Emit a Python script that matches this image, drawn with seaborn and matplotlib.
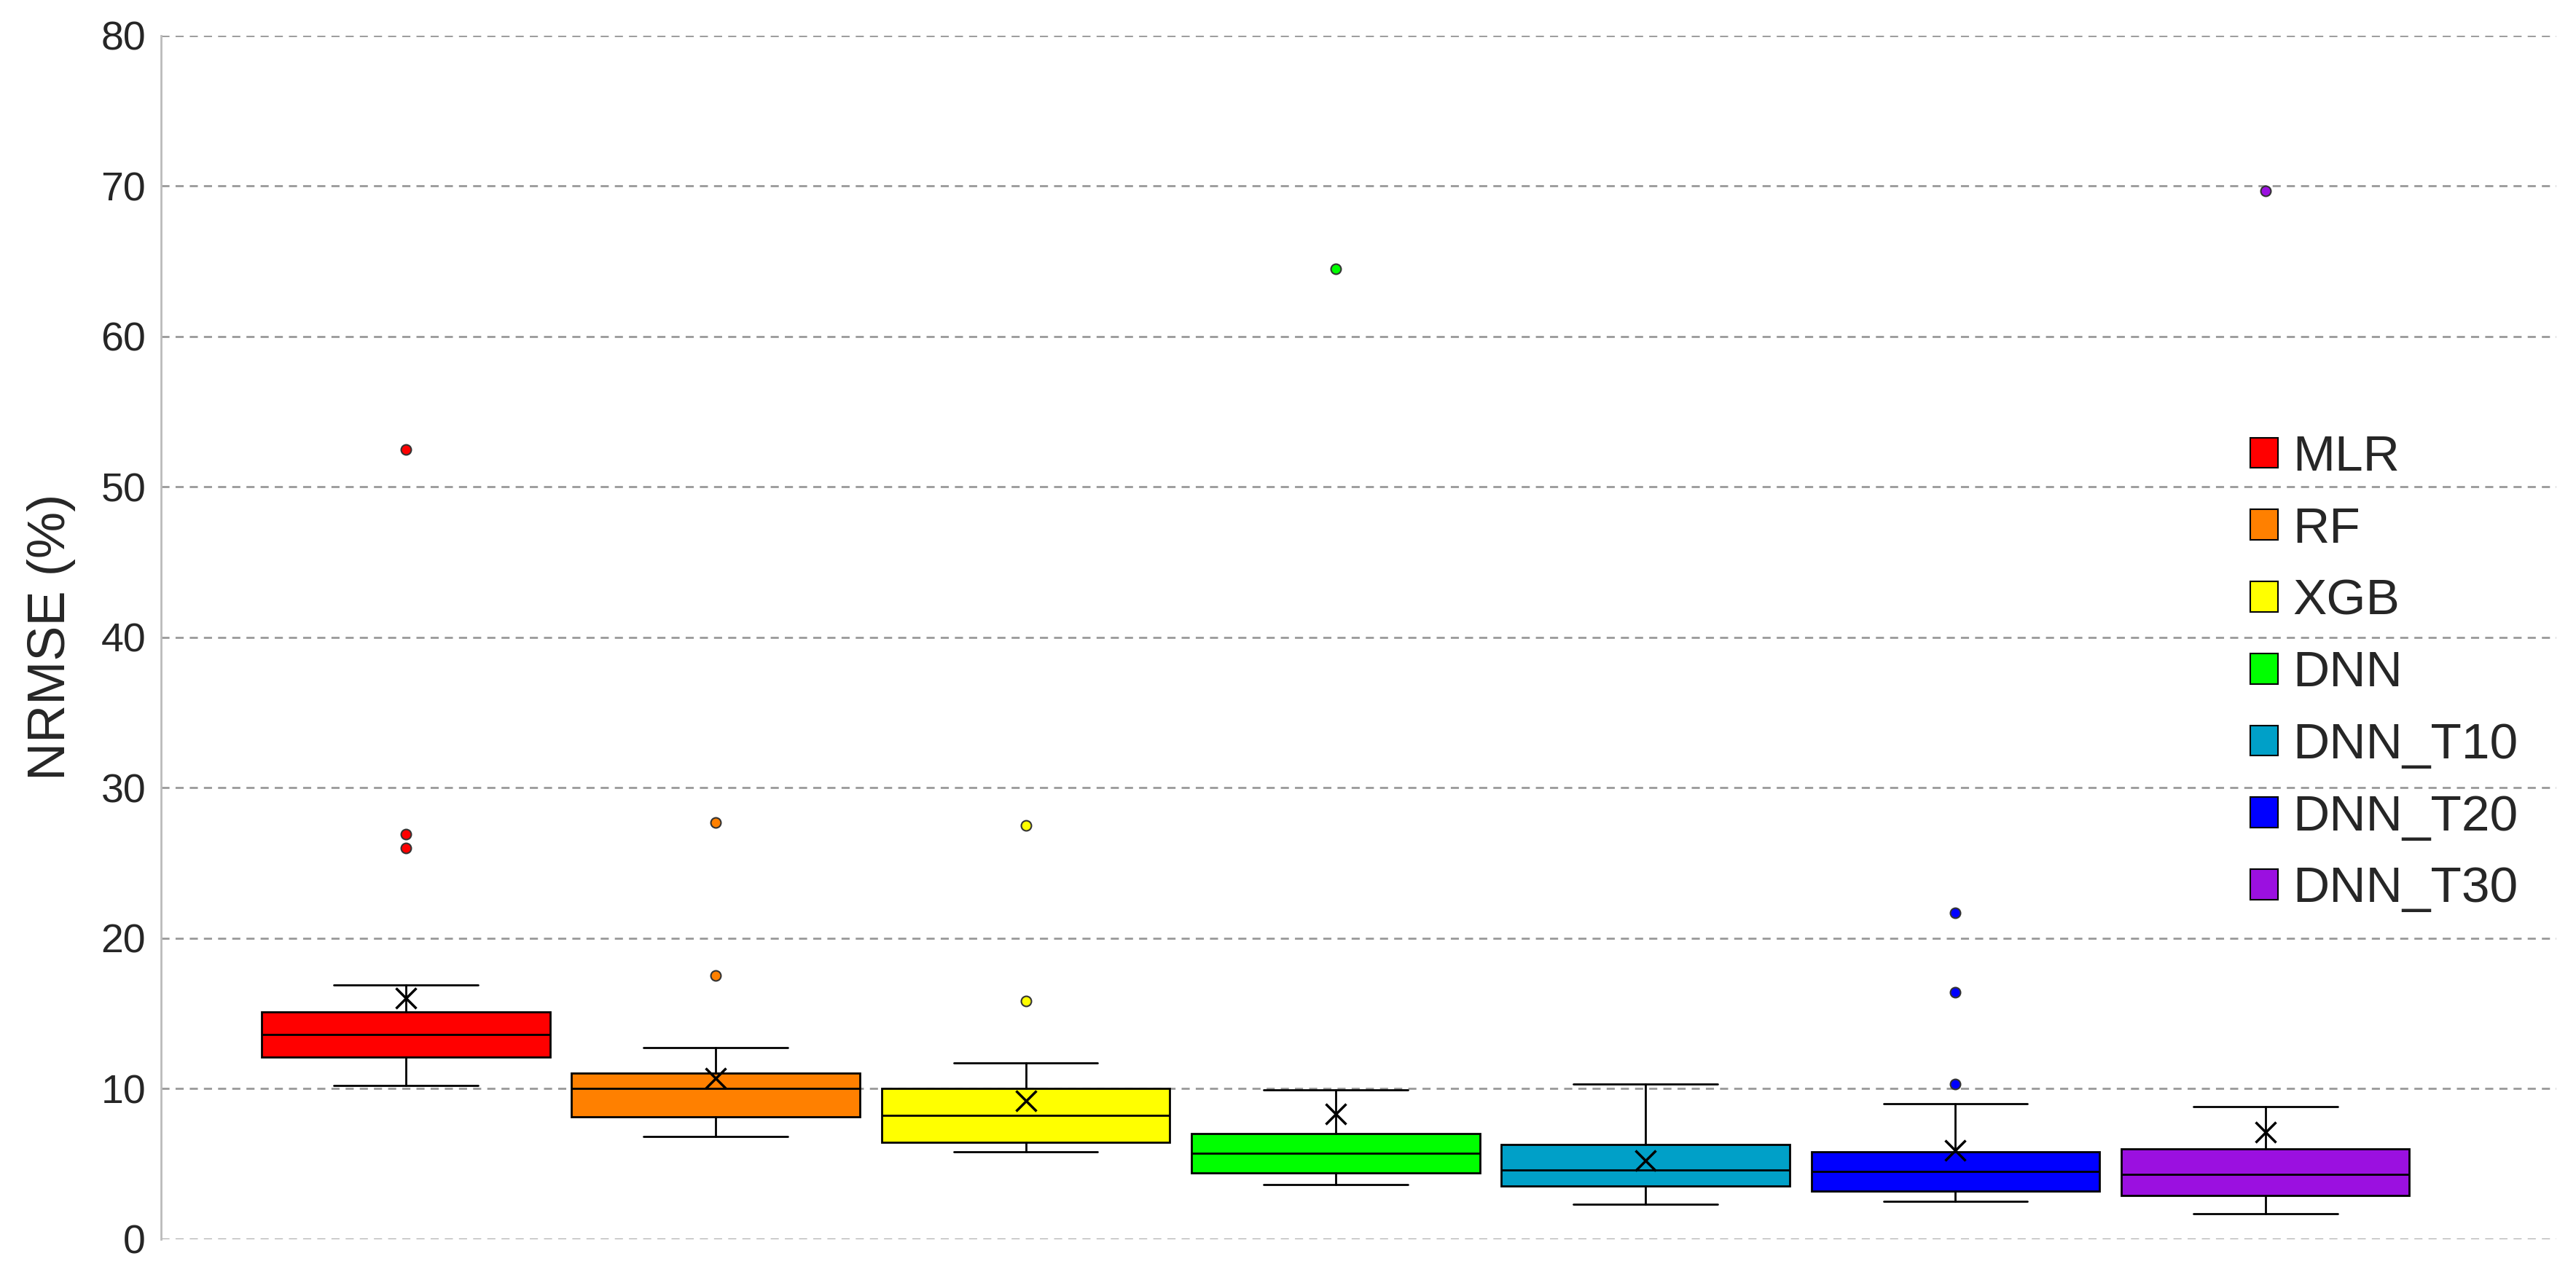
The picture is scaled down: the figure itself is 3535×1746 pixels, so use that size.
import matplotlib
matplotlib.use("Agg")
import matplotlib.pyplot as plt
import seaborn as sns
from matplotlib.patches import Patch

models = ["MLR", "RF", "XGB", "DNN", "DNN_T10", "DNN_T20", "DNN_T30"]
colors = ["#FF0000", "#FF8000", "#FFFF00", "#00FF00", "#00A0C8", "#0000FF", "#9B10E0"]
q1 = [12.1, 8.1, 6.4, 4.4, 3.5, 3.2, 2.9]
med = [13.6, 10.0, 8.2, 5.7, 4.6, 4.5, 4.3]
q3 = [15.1, 11.0, 10.0, 7.0, 6.3, 5.8, 6.0]
whislo = [10.2, 6.8, 5.8, 3.6, 2.3, 2.5, 1.7]
whishi = [16.9, 12.7, 11.7, 9.9, 10.3, 9.0, 8.8]
means = [16.0, 10.7, 9.2, 8.3, 5.2, 5.9, 7.1]
outliers = [[52.5, 26.9, 26.0], [27.7, 17.5], [27.5, 15.8], [64.5], [], [21.7, 16.4, 10.3], [69.7]]

sns.set_style("white")
plt.rcParams['font.family'] = ['Liberation Sans', 'DejaVu Sans']

fig = plt.figure(figsize=(35.35, 17.46), dpi=100)
ax = fig.add_axes([0.0625, 0.026, 0.93, 0.946])

for i, m in enumerate(models):
    st = dict(label=m, q1=q1[i], med=med[i], q3=q3[i], whislo=whislo[i],
              whishi=whishi[i], mean=means[i], fliers=outliers[i])
    ax.bxp([st], positions=[i], widths=0.93, patch_artist=True, showmeans=True,
           boxprops=dict(facecolor=colors[i], edgecolor="black", linewidth=2),
           medianprops=dict(color="black", linewidth=2),
           whiskerprops=dict(color="black", linewidth=2),
           capprops=dict(color="black", linewidth=2),
           meanprops=dict(marker="x", markeredgecolor="black", markersize=20, markeredgewidth=2.5),
           flierprops=dict(marker="o", markerfacecolor=colors[i], markeredgecolor="#333333",
                           markersize=10, markeredgewidth=1.5))

ax.set_xlim(-0.79, 6.94)
ax.set_ylim(0, 80)
ax.set_yticks(range(0, 81, 10))
ax.set_xticks([])
ax.yaxis.grid(True, linestyle=(0, (4, 3)), color="#999999", linewidth=2)
ax.set_axisbelow(True)
for s in ["top", "right", "bottom"]:
    ax.spines[s].set_visible(False)
ax.spines["left"].set_color("#BBBBBB")
ax.spines["left"].set_linewidth(2)
ax.tick_params(axis="y", labelsize=40, length=0, pad=15)
ax.set_ylabel("NRMSE (%)", fontsize=52, labelpad=25)

handles = [Patch(facecolor=c, edgecolor="black", linewidth=1.5, label=m) for m, c in zip(models, colors)]
ax.legend(handles=handles, loc="center left", bbox_to_anchor=(0.853, 0.47), frameon=False,
          fontsize=50, handlelength=0.55, handleheight=0.55, handletextpad=0.3, labelspacing=0.5)

fig.savefig("out.png", dpi=100)
